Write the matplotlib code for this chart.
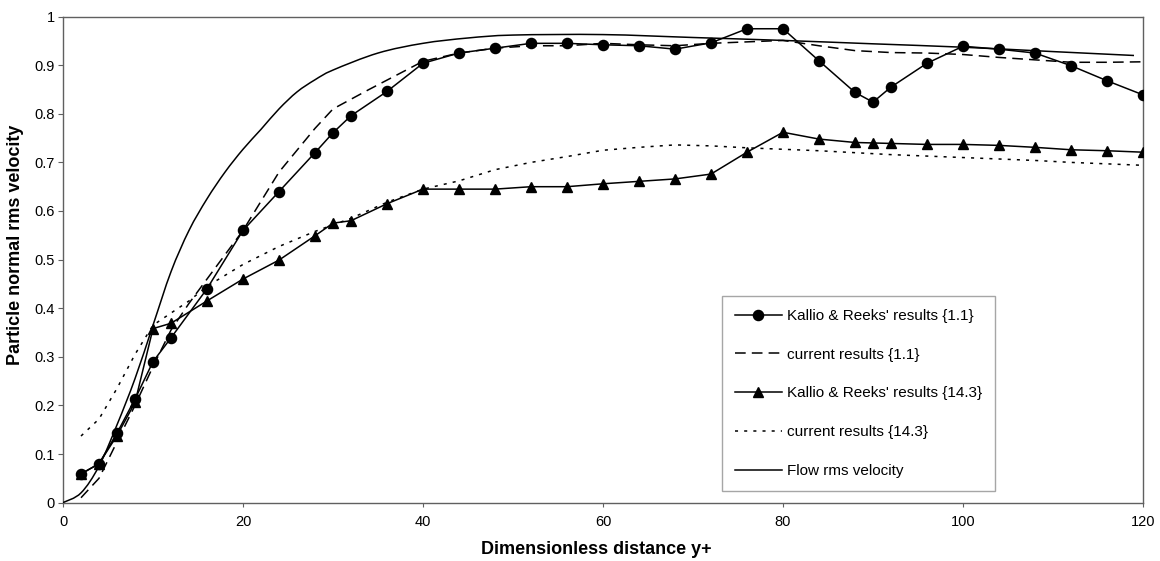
import matplotlib
matplotlib.use("Agg")
import matplotlib.pyplot as plt
import numpy as np
from matplotlib.ticker import FuncFormatter, MultipleLocator
from matplotlib.path import Path
from matplotlib.patches import PathPatch

plt.rcParams['font.family'] = ['Liberation Sans', 'DejaVu Sans']

# Kallio & Reeks' results {1.1}
kr11_x = [2, 4, 6, 8, 10, 12, 16, 20, 24, 28, 30, 32, 36, 40, 44, 48, 52, 56, 60, 64,
          68, 72, 76, 80, 84, 88, 90, 92, 96, 100, 104, 108, 112, 116, 120]
kr11_y = [0.059, 0.08, 0.143, 0.213, 0.29, 0.339, 0.44, 0.56, 0.64, 0.72, 0.761, 0.796,
          0.846, 0.904, 0.925, 0.935, 0.945, 0.945, 0.942, 0.94, 0.933, 0.946, 0.975,
          0.975, 0.909, 0.844, 0.824, 0.855, 0.904, 0.939, 0.933, 0.925, 0.899, 0.868, 0.839]

# current results {1.1}
cur11_x = [2, 4, 6, 8, 10, 12, 14, 16, 20, 24, 28, 30, 34, 40, 44, 48, 52, 56, 60, 64,
           68, 72, 76, 80, 84, 88, 92, 96, 100, 104, 108, 112, 116, 120]
cur11_y = [0.01, 0.05, 0.125, 0.2, 0.28, 0.355, 0.41, 0.46, 0.56, 0.68, 0.77, 0.81, 0.85,
           0.908, 0.925, 0.935, 0.94, 0.94, 0.945, 0.942, 0.94, 0.945, 0.948, 0.951, 0.94,
           0.93, 0.926, 0.925, 0.922, 0.916, 0.911, 0.906, 0.906, 0.907]

# Kallio & Reeks' results {14.3}
kr143_x = [2, 4, 6, 8, 10, 12, 16, 20, 24, 28, 30, 32, 36, 40, 44, 48, 52, 56, 60, 64,
           68, 72, 76, 80, 84, 88, 90, 92, 96, 100, 104, 108, 112, 116, 120]
kr143_y = [0.059, 0.08, 0.138, 0.206, 0.358, 0.369, 0.415, 0.46, 0.499, 0.549, 0.575,
           0.58, 0.615, 0.645, 0.645, 0.645, 0.65, 0.65, 0.656, 0.661, 0.666, 0.676, 0.721,
           0.762, 0.748, 0.741, 0.74, 0.739, 0.737, 0.737, 0.735, 0.731, 0.726, 0.724, 0.721]

# current results {14.3}
cur143_x = [2, 4, 6, 8, 10, 12, 14, 16, 20, 24, 28, 32, 36, 40, 44, 48, 52, 56, 60, 64,
            68, 72, 76, 80, 84, 88, 92, 96, 100, 104, 108, 112, 116, 120]
cur143_y = [0.137, 0.172, 0.235, 0.305, 0.365, 0.39, 0.415, 0.445, 0.49, 0.527, 0.558,
            0.585, 0.618, 0.645, 0.662, 0.685, 0.70, 0.712, 0.725, 0.731, 0.736, 0.734,
            0.73, 0.727, 0.724, 0.72, 0.716, 0.713, 0.71, 0.707, 0.704, 0.70, 0.697, 0.694]

# Flow rms velocity
flow_x = [0, 2, 4, 6, 8, 10, 12, 14, 16, 18, 20, 22, 24, 26, 28, 30, 35, 40, 45, 50,
          60, 70, 80, 90, 100, 110, 119]
flow_y = [0, 0.02, 0.075, 0.16, 0.255, 0.365, 0.475, 0.56, 0.625, 0.68, 0.727, 0.768,
          0.81, 0.845, 0.87, 0.89, 0.925, 0.945, 0.956, 0.962, 0.963, 0.957, 0.951,
          0.944, 0.937, 0.928, 0.92]

labels = ["Kallio & Reeks' results {1.1}", "current results {1.1}",
          "Kallio & Reeks' results {14.3}", "current results {14.3}",
          "Flow rms velocity"]


def smooth_path(xs, ys):
    """Catmull-Rom through the points, as cubic Bezier segments (Excel-like smoothing)."""
    pts = np.column_stack([xs, ys]).astype(float)
    n = len(pts)
    verts = [tuple(pts[0])]
    codes = [Path.MOVETO]
    for i in range(n - 1):
        p0 = pts[i - 1] if i > 0 else pts[i]
        p1 = pts[i]
        p2 = pts[i + 1]
        p3 = pts[i + 2] if i + 2 < n else pts[i + 1]
        c1 = p1 + (p2 - p0) / 6.0
        c2 = p2 - (p3 - p1) / 6.0
        verts += [tuple(c1), tuple(c2), tuple(p2)]
        codes += [Path.CURVE4] * 3
    return Path(verts, codes)


W, H = 1160, 561
fig = plt.figure(figsize=(W / 100, H / 100), dpi=100)
ax = fig.add_axes([63 / W, 1 - 502.6 / H, 1080 / W, 486 / H])

lw = 1.1
ax.plot(kr11_x, kr11_y, color='black', lw=lw, marker='o', markersize=7.3,
        label=labels[0], zorder=4)
ax.plot(cur11_x, cur11_y, color='black', lw=lw, dashes=(7, 4), label=labels[1], zorder=3)
ax.plot(kr143_x, kr143_y, color='black', lw=lw, marker='^', markersize=7.3,
        label=labels[2], zorder=4)
ax.plot(cur143_x, cur143_y, color='black', lw=lw, dashes=(2, 4), label=labels[3], zorder=3)
ax.plot([], [], color='black', lw=lw, label=labels[4])
ax.add_patch(PathPatch(smooth_path(flow_x, flow_y), facecolor='none', edgecolor='black',
                       lw=lw, zorder=3))

ax.set_xlim(0, 120)
ax.set_ylim(0, 1)
ax.xaxis.set_major_locator(MultipleLocator(20))
ax.yaxis.set_major_locator(MultipleLocator(0.1))
ax.yaxis.set_major_formatter(FuncFormatter(
    lambda v, p: "0" if abs(v) < 1e-9 else f"{v:.1f}".rstrip('0').rstrip('.')))
ax.xaxis.set_major_formatter(FuncFormatter(lambda v, p: f"{int(round(v))}"))

for s in ax.spines.values():
    s.set_color('#606060')
    s.set_linewidth(1.0)

ax.tick_params(axis='y', direction='out', length=3.6, width=0.8, color='#606060',
               pad=2.2, labelsize=10.5)
ax.tick_params(axis='x', direction='out', length=2.9, width=0.8, color='#606060',
               pad=6, labelsize=10.5)

leg = ax.legend(loc='lower left', bbox_to_anchor=(0.610, 0.024), borderaxespad=0,
                frameon=True, fancybox=False, edgecolor='#909090', fontsize=11,
                handlelength=3.07, handletextpad=0.33, labelspacing=1.62,
                borderpad=0.85, numpoints=1)
leg.get_frame().set_linewidth(1.0)

fig.text(596 / W, 1 - 550 / H, "Dimensionless distance y+", ha='center', va='center',
         fontsize=13, fontweight='bold')
fig.text(16 / W, 1 - 245 / H, "Particle normal rms velocity", ha='center', va='center',
         rotation=90, fontsize=13, fontweight='bold')

fig.savefig("out.png", dpi=100)
